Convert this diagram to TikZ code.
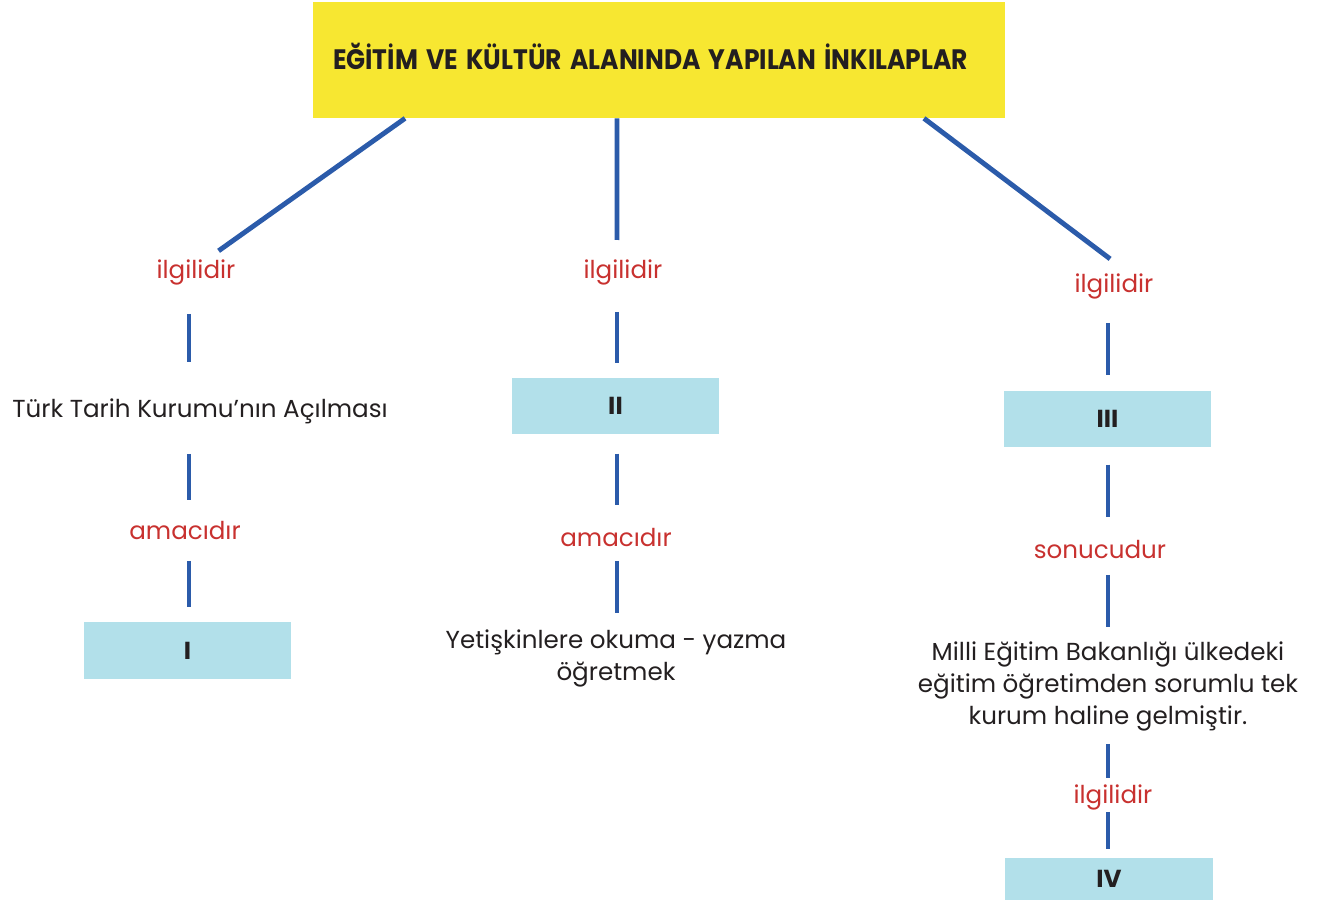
\documentclass[tikz,border=0pt]{standalone}
\usepackage{fontspec}
\setmainfont{Poppins}
\usepackage{graphicx}
\usepackage{tikz}

\definecolor{titleyellow}{HTML}{F7E731}
\definecolor{boxblue}{HTML}{B2E0EA}
\definecolor{linkblue}{HTML}{2B5BAA}
\definecolor{relred}{HTML}{C8312F}
\definecolor{inkgray}{HTML}{231F20}

\begin{document}
\begin{tikzpicture}[x=0.02cm,y=-0.02cm,
    link/.style={draw=linkblue,line width=2.8pt},
    rel/.style={text=relred,font=\fontsize{14}{18}\selectfont},
    note/.style={text=inkgray,align=center,font=\fontsize{14}{18.2}\selectfont},
    conbox/.style={fill=boxblue,minimum width=4.14cm,minimum height=1.13cm,
        text=inkgray,font=\fontsize{14}{18}\selectfont\bfseries}]
    \useasboundingbox (0,0) rectangle (1323,901);

    % Title box
    \node[fill=titleyellow,minimum width=13.84cm,minimum height=2.32cm,
        text width=13.04cm,inner xsep=0.4cm,align=left,text=inkgray,
        font=\fontsize{16}{19}\selectfont\bfseries] (title) at (659,60)
        {\raisebox{0.14cm}{\resizebox{12.7cm}{\height}{EĞİTİM VE KÜLTÜR ALANINDA YAPILAN İNKILAPLAR}}};

    % columns
    \coordinate (col1) at (189,0);
    \coordinate (col2) at (617,0);
    \coordinate (col3) at (1108,0);

    % Left branch
    \node[rel] (lab1) at (196,272) {ilgilidir};
    \node[note] (txt1) at (200,411) {Türk Tarih Kurumu’nın Açılması};
    \node[rel] (am1) at (185,531) {amacıdır};
    \node[conbox] (box1) at (187.5,650.5) {I};

    % Middle branch
    \node[rel] (lab2) at (623,272) {ilgilidir};
    \node[conbox] (box2) at (615.5,406) {II};
    \node[rel] (am2) at (616,538) {amacıdır};
    \node[note] (txt2) at (616,658) {Yetişkinlere okuma - yazma\\öğretmek};

    % Right branch
    \node[rel] (lab3) at (1114,286) {ilgilidir};
    \node[conbox] (box3) at (1107.5,419) {III};
    \node[rel] (son) at (1100,550) {sonucudur};
    \node[note] (txt3) at (1108,686) {Milli Eğitim Bakanlığı ülkedeki\\eğitim öğretimden sorumlu tek\\kurum haline gelmiştir.};
    \node[rel] (lab4) at (1113,797) {ilgilidir};
    \node[conbox,minimum width=4.16cm,minimum height=0.84cm] (box4) at (1109,879) {IV};

    % links from the title
    \draw[link,shorten >=0.8cm] ([xshift=-5.08cm]title.south) -- ([xshift=-0.2cm,yshift=-0.04cm]lab1.center);
    \draw[link,shorten >=0.64cm] ([xshift=-0.84cm]title.south) -- ([xshift=-0.12cm]lab2.center);
    \draw[link,shorten >=0.9cm] ([xshift=5.3cm]title.south) -- ([xshift=0.64cm]lab3.center);

    % left column links
    \draw[link,shorten <=0.84cm,shorten >=0.98cm] (col1 |- lab1) -- (col1 |- txt1);
    \draw[link,shorten <=0.86cm,shorten >=0.62cm] (col1 |- txt1) -- (col1 |- am1);
    \draw[link,shorten <=0.6cm,shorten >=0.3cm] (col1 |- am1) -- (col1 |- box1.north);

    % middle column links
    \draw[link,shorten <=0.8cm,shorten >=0.28cm] (col2 |- lab2) -- (col2 |- box2.north);
    \draw[link,shorten <=0.38cm,shorten >=0.66cm] (col2 |- box2.south) -- (col2 |- am2);
    \draw[link,shorten <=0.46cm,shorten >=0.9cm] (col2 |- am2) -- (col2 |- txt2);

    % right column links
    \draw[link,shorten <=0.74cm,shorten >=0.3cm] (col3 |- lab3) -- (col3 |- box3.north);
    \draw[link,shorten <=0.34cm,shorten >=0.66cm] (col3 |- box3.south) -- (col3 |- son);
    \draw[link,shorten <=0.5cm,shorten >=1.18cm] (col3 |- son) -- (col3 |- txt3);
    \draw[link,shorten <=1.16cm,shorten >=0.38cm] (col3 |- txt3) -- (col3 |- lab4);
    \draw[link,shorten <=0.3cm,shorten >=0.18cm] (col3 |- lab4) -- (col3 |- box4.north);
\end{tikzpicture}
\end{document}
